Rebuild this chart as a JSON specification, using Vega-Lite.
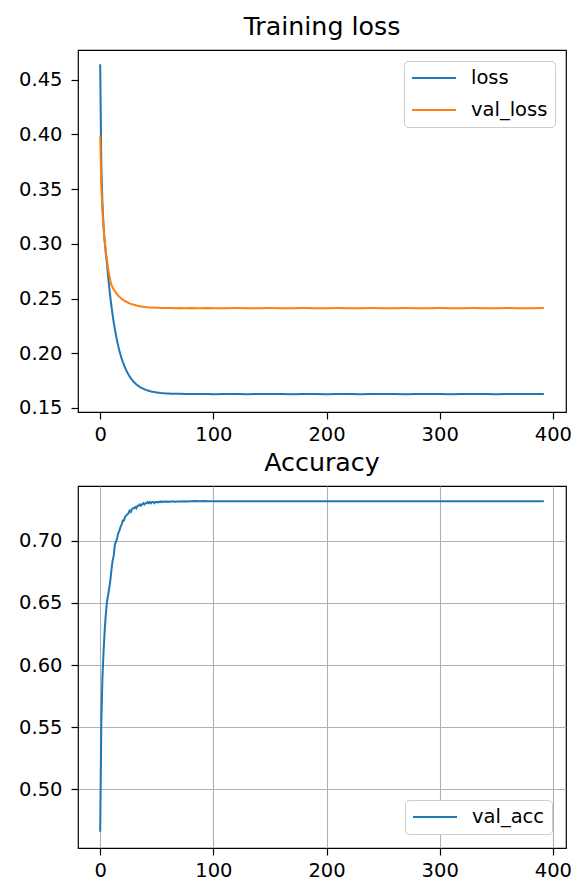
{
  "$schema": "https://vega.github.io/schema/vega-lite/v6.json",
  "background": "white",
  "padding": {"left": 17, "top": 14, "right": 5, "bottom": 5},
  "config": {
    "font": "DejaVu Sans",
    "view": {"stroke": "black", "strokeWidth": 1.2},
    "axis": {"domain": false, "grid": false, "labelFont": "DejaVu Sans", "labelFontSize": 19.5, "labelColor": "black", "tickColor": "black", "tickSize": 7, "tickWidth": 1.2, "title": null, "gridColor": "#b0b0b0", "gridWidth": 1.1},
    "axisX": {"labelPadding": 6},
    "axisY": {"labelPadding": 9},
    "title": {"font": "DejaVu Sans", "fontSize": 25.3, "fontWeight": "normal", "color": "black", "baseline": "alphabetic", "offset": 10},
    "legend": {"symbolType": "stroke", "symbolSize": 1936, "symbolStrokeWidth": 2, "clipHeight": 20, "labelFont": "DejaVu Sans", "labelFontSize": 19.5, "labelColor": "black", "padding": 7, "rowPadding": 12, "labelOffset": 14, "strokeColor": "#cccccc", "fillColor": "white", "cornerRadius": 4, "offset": 11, "title": null}
  },
  "datasets": {
    "loss": [
      {"epoch": 0, "loss": 0.464, "val_loss": 0.399},
      {"epoch": 1, "loss": 0.372, "val_loss": 0.352},
      {"epoch": 2, "loss": 0.336, "val_loss": 0.330},
      {"epoch": 3, "loss": 0.316, "val_loss": 0.314},
      {"epoch": 4, "loss": 0.302, "val_loss": 0.302},
      {"epoch": 5, "loss": 0.291, "val_loss": 0.293},
      {"epoch": 6, "loss": 0.2817, "val_loss": 0.2850},
      {"epoch": 7, "loss": 0.2704, "val_loss": 0.2775},
      {"epoch": 8, "loss": 0.2601, "val_loss": 0.2715},
      {"epoch": 9, "loss": 0.2508, "val_loss": 0.2660},
      {"epoch": 10, "loss": 0.2425, "val_loss": 0.2625},
      {"epoch": 11, "loss": 0.2349, "val_loss": 0.2600},
      {"epoch": 12, "loss": 0.2280, "val_loss": 0.2580},
      {"epoch": 13, "loss": 0.2218, "val_loss": 0.2568},
      {"epoch": 14, "loss": 0.2162, "val_loss": 0.2550},
      {"epoch": 15, "loss": 0.2111, "val_loss": 0.2540},
      {"epoch": 16, "loss": 0.2065, "val_loss": 0.2525},
      {"epoch": 17, "loss": 0.2023, "val_loss": 0.2515},
      {"epoch": 18, "loss": 0.1985, "val_loss": 0.2508},
      {"epoch": 19, "loss": 0.1951, "val_loss": 0.2496},
      {"epoch": 20, "loss": 0.1920, "val_loss": 0.2490},
      {"epoch": 21, "loss": 0.1893, "val_loss": 0.2482},
      {"epoch": 22, "loss": 0.1867, "val_loss": 0.2476},
      {"epoch": 23, "loss": 0.1845, "val_loss": 0.2470},
      {"epoch": 24, "loss": 0.1824, "val_loss": 0.2466},
      {"epoch": 25, "loss": 0.1805, "val_loss": 0.2460},
      {"epoch": 26, "loss": 0.1788, "val_loss": 0.2456},
      {"epoch": 27, "loss": 0.1773, "val_loss": 0.2451},
      {"epoch": 28, "loss": 0.1759, "val_loss": 0.2448},
      {"epoch": 29, "loss": 0.1746, "val_loss": 0.2445},
      {"epoch": 30, "loss": 0.1735, "val_loss": 0.2442},
      {"epoch": 31, "loss": 0.1725, "val_loss": 0.2440},
      {"epoch": 32, "loss": 0.1715, "val_loss": 0.2436},
      {"epoch": 33, "loss": 0.1707, "val_loss": 0.2434},
      {"epoch": 34, "loss": 0.1699, "val_loss": 0.2431},
      {"epoch": 35, "loss": 0.1692, "val_loss": 0.2430},
      {"epoch": 36, "loss": 0.1686, "val_loss": 0.2428},
      {"epoch": 37, "loss": 0.1681, "val_loss": 0.2426},
      {"epoch": 38, "loss": 0.1676, "val_loss": 0.2425},
      {"epoch": 39, "loss": 0.1671, "val_loss": 0.2423},
      {"epoch": 40, "loss": 0.1667, "val_loss": 0.2422},
      {"epoch": 41, "loss": 0.1663, "val_loss": 0.2421},
      {"epoch": 42, "loss": 0.1660, "val_loss": 0.2420},
      {"epoch": 43, "loss": 0.1657, "val_loss": 0.2419},
      {"epoch": 44, "loss": 0.1654, "val_loss": 0.2418},
      {"epoch": 45, "loss": 0.1651, "val_loss": 0.2418},
      {"epoch": 46, "loss": 0.1649, "val_loss": 0.2417},
      {"epoch": 47, "loss": 0.1647, "val_loss": 0.2417},
      {"epoch": 48, "loss": 0.1645, "val_loss": 0.2416},
      {"epoch": 49, "loss": 0.1643, "val_loss": 0.2416},
      {"epoch": 50, "loss": 0.1642, "val_loss": 0.2415},
      {"epoch": 52, "loss": 0.1639, "val_loss": 0.2415},
      {"epoch": 54, "loss": 0.1636, "val_loss": 0.2414},
      {"epoch": 56, "loss": 0.1634, "val_loss": 0.2414},
      {"epoch": 58, "loss": 0.1632, "val_loss": 0.2414},
      {"epoch": 60, "loss": 0.1631, "val_loss": 0.2413},
      {"epoch": 63, "loss": 0.1630, "val_loss": 0.2413},
      {"epoch": 66, "loss": 0.1629, "val_loss": 0.2412},
      {"epoch": 70, "loss": 0.1629, "val_loss": 0.2413},
      {"epoch": 75, "loss": 0.1628, "val_loss": 0.2412},
      {"epoch": 80, "loss": 0.1628, "val_loss": 0.2413},
      {"epoch": 85, "loss": 0.1627, "val_loss": 0.2412},
      {"epoch": 90, "loss": 0.1628, "val_loss": 0.2412},
      {"epoch": 95, "loss": 0.1627, "val_loss": 0.2413},
      {"epoch": 100, "loss": 0.1626, "val_loss": 0.2412},
      {"epoch": 110, "loss": 0.1628, "val_loss": 0.2412},
      {"epoch": 120, "loss": 0.1627, "val_loss": 0.2413},
      {"epoch": 130, "loss": 0.1626, "val_loss": 0.2412},
      {"epoch": 140, "loss": 0.1628, "val_loss": 0.2412},
      {"epoch": 150, "loss": 0.1627, "val_loss": 0.2413},
      {"epoch": 160, "loss": 0.1627, "val_loss": 0.2412},
      {"epoch": 170, "loss": 0.1626, "val_loss": 0.2412},
      {"epoch": 180, "loss": 0.1628, "val_loss": 0.2413},
      {"epoch": 190, "loss": 0.1627, "val_loss": 0.2412},
      {"epoch": 200, "loss": 0.1626, "val_loss": 0.2412},
      {"epoch": 210, "loss": 0.1627, "val_loss": 0.2413},
      {"epoch": 220, "loss": 0.1628, "val_loss": 0.2412},
      {"epoch": 230, "loss": 0.1626, "val_loss": 0.2412},
      {"epoch": 240, "loss": 0.1627, "val_loss": 0.2413},
      {"epoch": 250, "loss": 0.1627, "val_loss": 0.2412},
      {"epoch": 260, "loss": 0.1628, "val_loss": 0.2412},
      {"epoch": 270, "loss": 0.1626, "val_loss": 0.2413},
      {"epoch": 280, "loss": 0.1627, "val_loss": 0.2412},
      {"epoch": 290, "loss": 0.1628, "val_loss": 0.2412},
      {"epoch": 300, "loss": 0.1627, "val_loss": 0.2413},
      {"epoch": 310, "loss": 0.1626, "val_loss": 0.2412},
      {"epoch": 320, "loss": 0.1627, "val_loss": 0.2412},
      {"epoch": 330, "loss": 0.1628, "val_loss": 0.2413},
      {"epoch": 340, "loss": 0.1627, "val_loss": 0.2412},
      {"epoch": 350, "loss": 0.1626, "val_loss": 0.2412},
      {"epoch": 360, "loss": 0.1627, "val_loss": 0.2413},
      {"epoch": 370, "loss": 0.1628, "val_loss": 0.2412},
      {"epoch": 380, "loss": 0.1627, "val_loss": 0.2412},
      {"epoch": 392, "loss": 0.1627, "val_loss": 0.2413}
    ],
    "acc": [
      {"epoch": 0, "val_acc": 0.466},
      {"epoch": 1, "val_acc": 0.553},
      {"epoch": 2, "val_acc": 0.590},
      {"epoch": 3, "val_acc": 0.611},
      {"epoch": 4, "val_acc": 0.628},
      {"epoch": 5, "val_acc": 0.641},
      {"epoch": 6, "val_acc": 0.651},
      {"epoch": 7, "val_acc": 0.656},
      {"epoch": 8, "val_acc": 0.662},
      {"epoch": 9, "val_acc": 0.668},
      {"epoch": 10, "val_acc": 0.677},
      {"epoch": 11, "val_acc": 0.684},
      {"epoch": 12, "val_acc": 0.688},
      {"epoch": 13, "val_acc": 0.697},
      {"epoch": 14, "val_acc": 0.699},
      {"epoch": 15, "val_acc": 0.702},
      {"epoch": 16, "val_acc": 0.706},
      {"epoch": 17, "val_acc": 0.708},
      {"epoch": 18, "val_acc": 0.711},
      {"epoch": 19, "val_acc": 0.713},
      {"epoch": 20, "val_acc": 0.716},
      {"epoch": 21, "val_acc": 0.716},
      {"epoch": 22, "val_acc": 0.719},
      {"epoch": 23, "val_acc": 0.720},
      {"epoch": 24, "val_acc": 0.721},
      {"epoch": 25, "val_acc": 0.722},
      {"epoch": 26, "val_acc": 0.724},
      {"epoch": 27, "val_acc": 0.723},
      {"epoch": 28, "val_acc": 0.725},
      {"epoch": 29, "val_acc": 0.726},
      {"epoch": 30, "val_acc": 0.726},
      {"epoch": 31, "val_acc": 0.727},
      {"epoch": 32, "val_acc": 0.726},
      {"epoch": 33, "val_acc": 0.728},
      {"epoch": 34, "val_acc": 0.728},
      {"epoch": 35, "val_acc": 0.729},
      {"epoch": 36, "val_acc": 0.728},
      {"epoch": 37, "val_acc": 0.729},
      {"epoch": 38, "val_acc": 0.730},
      {"epoch": 39, "val_acc": 0.729},
      {"epoch": 40, "val_acc": 0.730},
      {"epoch": 41, "val_acc": 0.730},
      {"epoch": 42, "val_acc": 0.731},
      {"epoch": 43, "val_acc": 0.730},
      {"epoch": 44, "val_acc": 0.731},
      {"epoch": 45, "val_acc": 0.730},
      {"epoch": 46, "val_acc": 0.731},
      {"epoch": 47, "val_acc": 0.731},
      {"epoch": 48, "val_acc": 0.730},
      {"epoch": 49, "val_acc": 0.731},
      {"epoch": 50, "val_acc": 0.731},
      {"epoch": 51, "val_acc": 0.7305},
      {"epoch": 52, "val_acc": 0.7312},
      {"epoch": 53, "val_acc": 0.7308},
      {"epoch": 54, "val_acc": 0.7314},
      {"epoch": 55, "val_acc": 0.7309},
      {"epoch": 56, "val_acc": 0.7313},
      {"epoch": 57, "val_acc": 0.7311},
      {"epoch": 58, "val_acc": 0.7314},
      {"epoch": 59, "val_acc": 0.7310},
      {"epoch": 60, "val_acc": 0.7313},
      {"epoch": 62, "val_acc": 0.7312},
      {"epoch": 64, "val_acc": 0.7315},
      {"epoch": 66, "val_acc": 0.7311},
      {"epoch": 68, "val_acc": 0.7314},
      {"epoch": 70, "val_acc": 0.7313},
      {"epoch": 72, "val_acc": 0.7316},
      {"epoch": 74, "val_acc": 0.7313},
      {"epoch": 76, "val_acc": 0.7315},
      {"epoch": 78, "val_acc": 0.7314},
      {"epoch": 80, "val_acc": 0.7316},
      {"epoch": 84, "val_acc": 0.7317},
      {"epoch": 88, "val_acc": 0.7316},
      {"epoch": 92, "val_acc": 0.7317},
      {"epoch": 96, "val_acc": 0.7316},
      {"epoch": 100, "val_acc": 0.7316},
      {"epoch": 120, "val_acc": 0.7316},
      {"epoch": 140, "val_acc": 0.7316},
      {"epoch": 160, "val_acc": 0.7316},
      {"epoch": 180, "val_acc": 0.7316},
      {"epoch": 200, "val_acc": 0.7316},
      {"epoch": 220, "val_acc": 0.7316},
      {"epoch": 240, "val_acc": 0.7316},
      {"epoch": 260, "val_acc": 0.7316},
      {"epoch": 280, "val_acc": 0.7316},
      {"epoch": 300, "val_acc": 0.7316},
      {"epoch": 320, "val_acc": 0.7316},
      {"epoch": 340, "val_acc": 0.7316},
      {"epoch": 360, "val_acc": 0.7316},
      {"epoch": 380, "val_acc": 0.7316},
      {"epoch": 392, "val_acc": 0.7316}
    ]
  },
  "spacing": 74,
  "bounds": "flush",
  "resolve": {"scale": {"x": "independent", "y": "independent", "color": "independent"}, "legend": {"color": "independent"}},
  "vconcat": [
    {
      "title": {"text": "Training loss"},
      "width": 488,
      "height": 362,
      "data": {"name": "loss"},
      "transform": [{"fold": ["loss", "val_loss"], "as": ["series", "value"]}],
      "mark": {"type": "line", "strokeWidth": 2, "clip": true},
      "encoding": {
        "x": {"field": "epoch", "type": "quantitative", "scale": {"domain": [-19.6, 411.6], "nice": false, "zero": false}, "axis": {"values": [0, 100, 200, 300, 400]}},
        "y": {"field": "value", "type": "quantitative", "scale": {"domain": [0.1463, 0.4771], "nice": false, "zero": false}, "axis": {"values": [0.15, 0.2, 0.25, 0.3, 0.35, 0.4, 0.45], "format": ".2f"}},
        "color": {"field": "series", "type": "nominal", "scale": {"domain": ["loss", "val_loss"], "range": ["#1f77b4", "#ff7f0e"]}, "legend": {"orient": "top-right"}}
      }
    },
    {
      "title": {"text": "Accuracy"},
      "width": 488,
      "height": 362,
      "data": {"name": "acc"},
      "transform": [{"fold": ["val_acc"], "as": ["series", "value"]}],
      "mark": {"type": "line", "strokeWidth": 2, "clip": true},
      "encoding": {
        "x": {"field": "epoch", "type": "quantitative", "scale": {"domain": [-19.6, 411.6], "nice": false, "zero": false}, "axis": {"values": [0, 100, 200, 300, 400], "grid": true}},
        "y": {"field": "value", "type": "quantitative", "scale": {"domain": [0.453, 0.7438], "nice": false, "zero": false}, "axis": {"values": [0.5, 0.55, 0.6, 0.65, 0.7], "format": ".2f", "grid": true}},
        "color": {"field": "series", "type": "nominal", "scale": {"domain": ["val_acc"], "range": ["#1f77b4"]}, "legend": {"orient": "bottom-right", "offset": 14}}
      }
    }
  ]
}
